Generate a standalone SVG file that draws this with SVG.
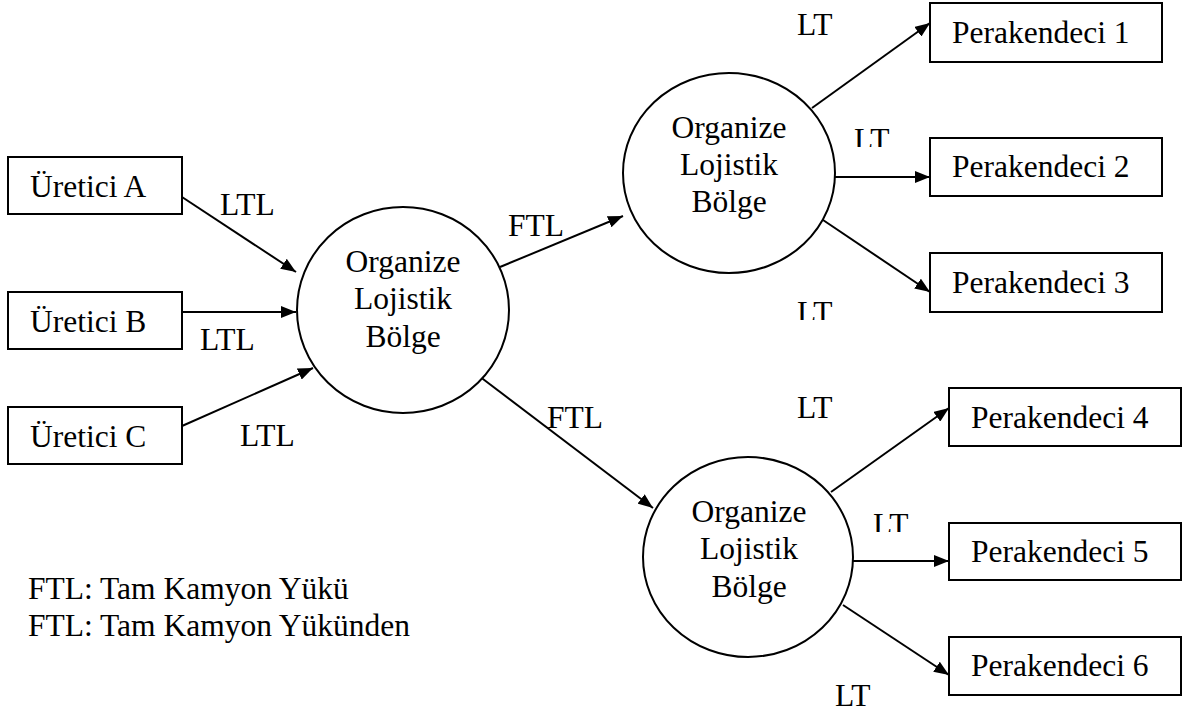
<svg xmlns="http://www.w3.org/2000/svg" width="1189" height="713" viewBox="0 0 1189 713" font-family="'Liberation Serif', 'Times New Roman', serif">
<style>
text{font-family:'Liberation Serif','Times New Roman',serif;font-size:31.5px;fill:#000}
.box{fill:#fff;stroke:#000;stroke-width:2}
.circ{fill:#fff;stroke:#000;stroke-width:2}
.mid{text-anchor:middle}
.conn line{stroke:#000;stroke-width:2;marker-end:url(#arr)}
</style>
<defs>
<marker id="arr" markerUnits="userSpaceOnUse" markerWidth="16" markerHeight="12" refX="15" refY="6" orient="auto">
<path d="M0,0 L15,6 L0,12 z" fill="#000"/>
</marker>
<clipPath id="c2"><rect x="840" y="100" width="60" height="47"/></clipPath>
<clipPath id="c3"><rect x="780" y="290" width="60" height="30"/></clipPath>
<clipPath id="c5"><rect x="860" y="500" width="60" height="32"/></clipPath>
</defs>
<rect width="1189" height="713" fill="#fff"/>
<g id="connectors" class="conn">
<line x1="182" y1="197" x2="296" y2="272"/>
<line x1="182" y1="312" x2="296" y2="312"/>
<line x1="182" y1="426" x2="313" y2="368"/>
<line x1="500" y1="267" x2="623" y2="216"/>
<line x1="479" y1="376" x2="653" y2="508"/>
<line x1="812" y1="108" x2="930" y2="23"/>
<line x1="835" y1="177" x2="930" y2="177"/>
<line x1="823" y1="220" x2="930" y2="292"/>
<line x1="831" y1="492" x2="949" y2="408"/>
<line x1="853" y1="561" x2="949" y2="561"/>
<line x1="843" y1="605" x2="949" y2="675"/>
</g>
<g id="labels">
<text x="220" y="215">LTL</text>
<text x="200" y="350">LTL</text>
<text x="240" y="446">LTL</text>
<text x="508" y="236">FTL</text>
<text x="547" y="428">FTL</text>
<text x="797" y="35">LT</text>
<text x="854" y="150" clip-path="url(#c2)">LT</text>
<text x="797" y="323" clip-path="url(#c3)">LT</text>
<text x="797" y="418">LT</text>
<text x="873" y="535" clip-path="url(#c5)">LT</text>
<text x="835" y="706">LT</text>
</g>
<g id="ureticiA"><rect class="box" x="8" y="157" width="174" height="57"/><text x="30" y="197">Üretici A</text></g>
<g id="ureticiB"><rect class="box" x="8" y="292" width="174" height="57"/><text x="30" y="332">Üretici B</text></g>
<g id="ureticiC"><rect class="box" x="8" y="407" width="174" height="57"/><text x="30" y="447">Üretici C</text></g>
<g id="olb-center"><ellipse class="circ" cx="403" cy="310" rx="106" ry="103"/>
<text class="mid" x="403" y="272">Organize</text><text class="mid" x="403" y="309">Lojistik</text><text class="mid" x="403" y="347">Bölge</text></g>
<g id="olb-top"><ellipse class="circ" cx="729" cy="173" rx="106" ry="100"/>
<text class="mid" x="729" y="138">Organize</text><text class="mid" x="729" y="175">Lojistik</text><text class="mid" x="729" y="212">Bölge</text></g>
<g id="olb-bottom"><ellipse class="circ" cx="748" cy="557" rx="105" ry="100"/>
<text class="mid" x="749" y="522">Organize</text><text class="mid" x="749" y="559">Lojistik</text><text class="mid" x="749" y="597">Bölge</text></g>
<g id="p1"><rect class="box" x="930" y="3" width="232" height="59"/><text x="952" y="43">Perakendeci 1</text></g>
<g id="p2"><rect class="box" x="930" y="138" width="232" height="58"/><text x="952" y="177">Perakendeci 2</text></g>
<g id="p3"><rect class="box" x="930" y="253" width="232" height="59"/><text x="952" y="293">Perakendeci 3</text></g>
<g id="p4"><rect class="box" x="949" y="388" width="232" height="58"/><text x="971" y="428">Perakendeci 4</text></g>
<g id="p5"><rect class="box" x="949" y="523" width="232" height="57"/><text x="971" y="562">Perakendeci 5</text></g>
<g id="p6"><rect class="box" x="949" y="637" width="232" height="58"/><text x="971" y="676">Perakendeci 6</text></g>
<g id="legend">
<text x="28" y="599">FTL: Tam Kamyon Yükü</text>
<text x="28" y="636">FTL: Tam Kamyon Yükünden</text>
</g>
</svg>
